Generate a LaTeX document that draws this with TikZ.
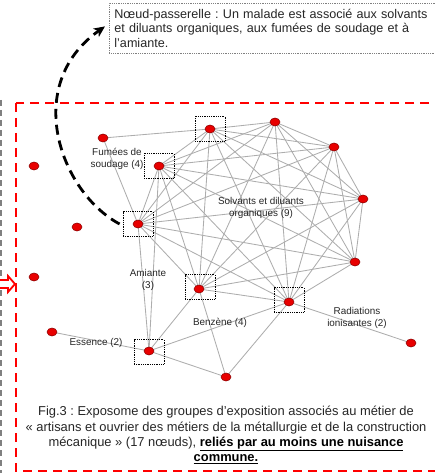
\documentclass[tikz,border=0pt]{standalone}
\usepackage{fontspec}
\setmainfont{Liberation Sans}
\usetikzlibrary{shapes.geometric,arrows.meta,backgrounds}
\definecolor{edgegray}{HTML}{ADADAD}
\definecolor{dotred}{HTML}{E80000}
\definecolor{txtgray}{HTML}{262626}
\frenchspacing
\tikzset{
  vtx/.style={ellipse, minimum width=10pt, minimum height=8pt, inner sep=0pt, fill=dotred, draw=red!55!black, line width=0.5pt},
  gbox/.style={rectangle, minimum width=30pt, minimum height=25pt, inner sep=0pt, draw=black, densely dotted, line width=0.8pt},
  lnk/.style={draw=edgegray, line width=0.85pt},
  lbl/.style={font=\fontsize{9.9}{12.3}\selectfont, text=txtgray, align=center, inner sep=0pt},
  frame/.style={draw=red, line width=2.6pt, dash pattern=on 9pt off 6pt},
}
\begin{document}
\begin{tikzpicture}[x=1pt,y=-1pt]
\useasboundingbox (0,0) rectangle (435,473);
% frames
\draw[frame] (16,103) rectangle (447,471);
\draw[draw=gray, line width=2pt, dash pattern=on 6pt off 4pt] (1,100) -- (1,475);
\draw[draw=red, line width=1.8pt, fill=white, line join=miter]
  (-2,280) -- (8,280) -- (8,276) -- (15,284) -- (8,292) -- (8,288) -- (-2,288) -- cycle;
% boxes
\node[gbox] (bA) at (210,129) {};
\node[gbox] (bG) at (159,166) {};
\node[gbox] (bH) at (138,224) {};
\node[gbox] (bI) at (200,287) {};
\node[gbox] (bJ) at (289,300) {};
\node[gbox] (bM) at (149,352) {};
% vertices
\node[vtx] (A) at (210,129) {};
\node[vtx] (B) at (275,122) {};
\node[vtx] (C) at (334,147) {};
\node[vtx] (D) at (363,199) {};
\node[vtx] (E) at (355,262) {};
\node[vtx] (F) at (103,138) {};
\node[vtx] (G) at (159,166) {};
\node[vtx] (H) at (138,224) {};
\node[vtx] (I) at (199,289) {};
\node[vtx] (J) at (289,302) {};
\node[vtx] (K) at (411,343) {};
\node[vtx] (L) at (52,332) {};
\node[vtx] (M) at (149,351) {};
\node[vtx] (N) at (226,377) {};
\node[vtx] (P) at (34,166) {};
\node[vtx] (Q) at (77,227) {};
\node[vtx] (R) at (34,277) {};
% edges
\begin{scope}[on background layer]
\foreach \u/\v in {A/B,A/C,A/D,A/E,A/G,A/H,A/I,A/J,
                   B/C,B/D,B/E,B/G,B/H,B/I,B/J,
                   C/D,C/E,C/G,C/H,C/I,C/J,
                   D/E,D/G,D/H,D/I,D/J,
                   E/G,E/H,E/I,E/J,
                   G/H,G/I,G/J,
                   H/I,H/J,
                   I/J,
                   F/A,F/H,G/M,H/M,
                   I/M,I/N,J/M,J/N,M/N,
                   J/K,L/M}
  \draw[lnk] (\u.center) -- (\v.center);
\end{scope}
% labels
\node[lbl] (lF) at (117,159) {Fumées de\\soudage (4)};
\node[lbl] (lS) at (261,208) {Solvants et diluants\\organiques (9)};
\node[lbl] (lA) at (148,280) {Amiante\\(3)};
\node[lbl] (lB) at (220,323) {Benzène (4)};
\node[lbl] (lR) at (357,318) {Radiations\\ionisantes (2)};
\node[lbl] (lE) at (96,343) {Essence (2)};
% callout
\node[draw=gray, densely dotted, line width=0.8pt, anchor=north west, minimum width=335pt, minimum height=50pt,
      text width=325pt, align=left, inner xsep=5pt, inner ysep=3pt, text=txtgray,
      font=\fontsize{12.6}{14.5}\selectfont] (callout) at (109,3)
  {Nœud-passerelle : Un malade est associé aux solvants\\et diluants organiques, aux fumées de soudage et à\\l’amiante.};
% bridge arrow
\coordinate (bstart) at ([xshift=-3pt]bH.west);
\coordinate (btip) at ([xshift=-4pt,yshift=2pt]callout.west);
\draw[line width=2.8pt, dash pattern=on 10pt off 6pt, -{Stealth[length=11pt,width=10pt,inset=3pt]}]
  (bstart) .. controls (60,192) and (22,85) .. (btip);
% caption
\node[align=center, text=txtgray, inner sep=0pt, font=\fontsize{12.9}{15.2}\selectfont] (cap) at (226,435)
  {Fig.3 : Exposome des groupes d’exposition associés au métier de\\
   « artisans et ouvrier des métiers de la métallurgie et de la construction\\
   mécanique » (17 nœuds), \textcolor{black}{\textbf{\underline{reliés par au moins une nuisance}}}\\
   \textcolor{black}{\textbf{\underline{commune.}}}};
\end{tikzpicture}
\end{document}
